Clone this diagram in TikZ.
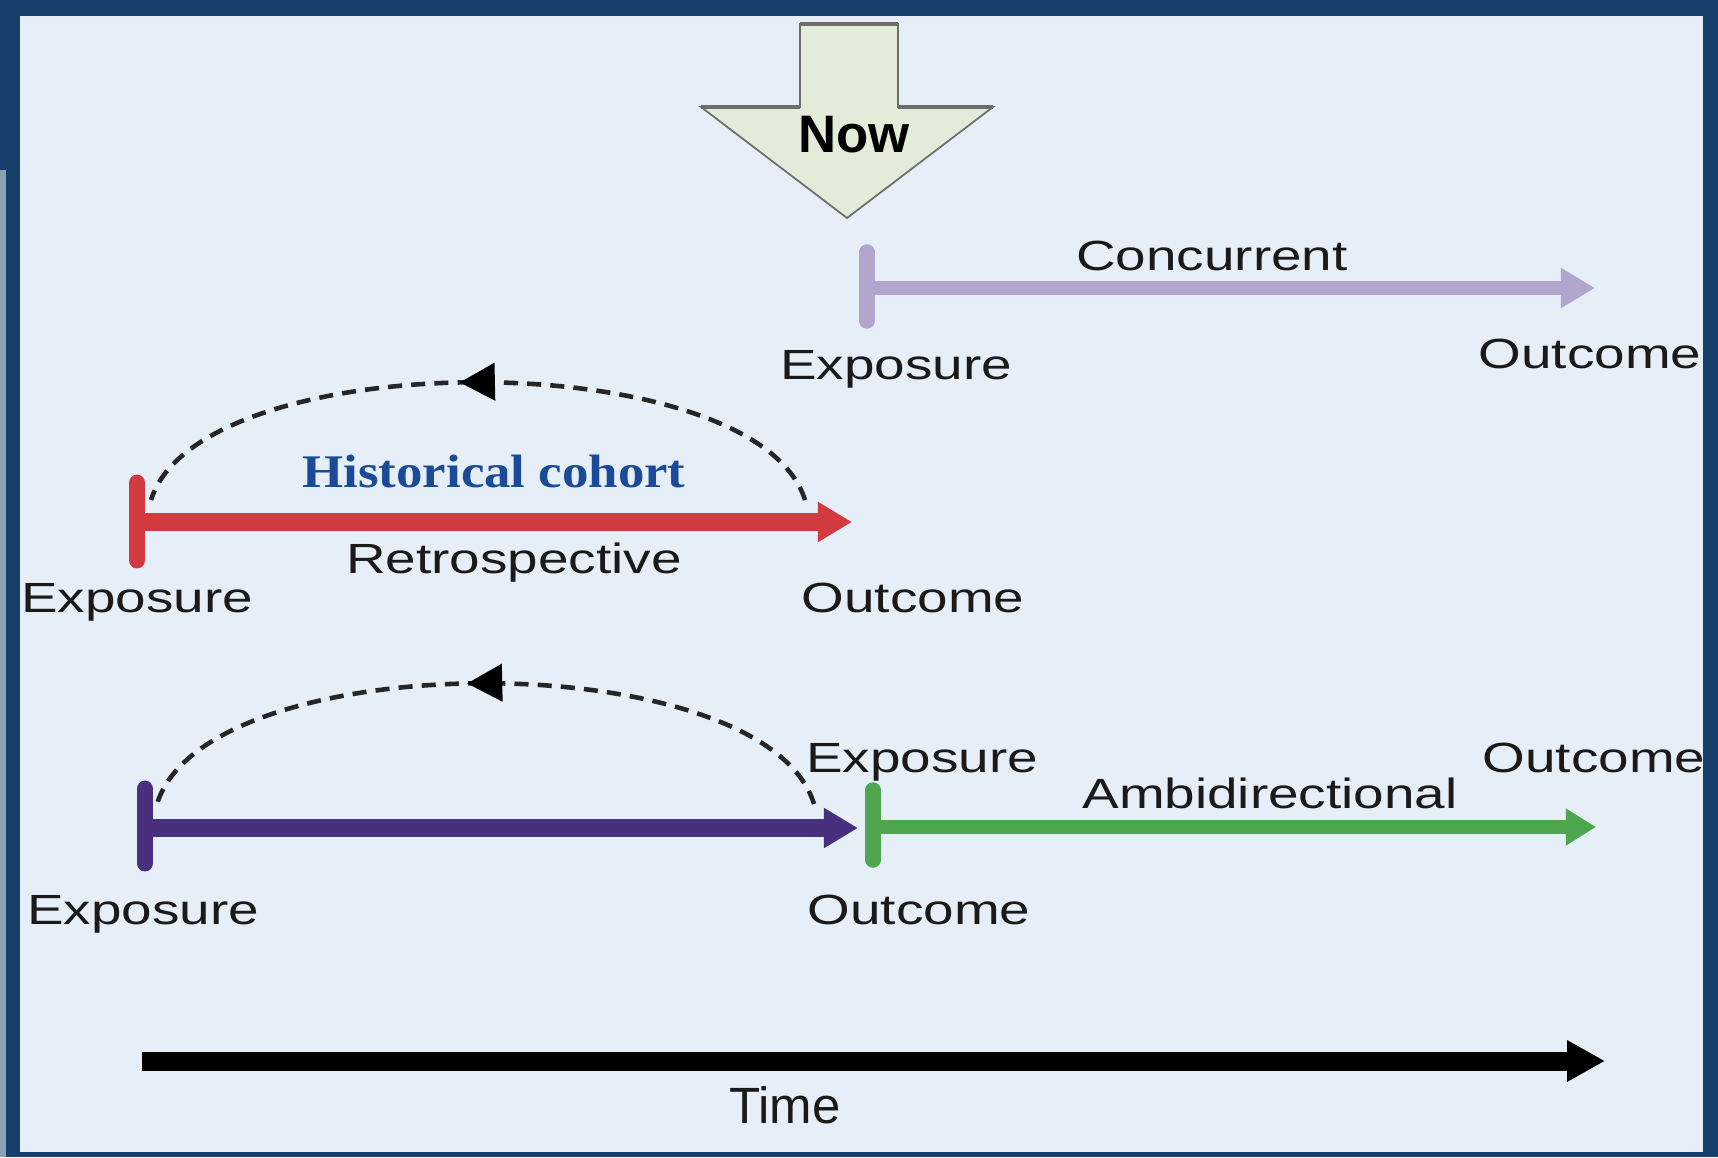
\documentclass[tikz,border=0pt]{standalone}
\usepackage{fontspec}
\setmainfont{Liberation Sans}
\newfontfamily\widesans{Liberation Sans}[FakeStretch=1.3]
\newfontfamily\wideserif{Liberation Serif}[FakeStretch=1.13]
\usetikzlibrary{arrows.meta,calc,decorations.markings}

\definecolor{frameblue}{HTML}{173F6B}
\definecolor{edgegrey}{HTML}{8DA2B4}
\definecolor{panel}{HTML}{E6EEF8}
\definecolor{ink}{HTML}{1A1A1A}
\definecolor{nowfill}{HTML}{E2ECD8}
\definecolor{nowedge}{HTML}{6E6E6E}
\definecolor{lav}{HTML}{B2A5CE}
\definecolor{retrored}{HTML}{D23A3F}
\definecolor{indigo}{HTML}{48307F}
\definecolor{ambigreen}{HTML}{4EA64F}
\definecolor{histblue}{HTML}{1B4A99}

\tikzset{
  lbl/.style={font=\widesans\fontsize{12}{14}\selectfont, text=ink, anchor=base, inner sep=0pt},
  tickbar/.style={line width=4.8pt, line cap=round},
  span/.style={line width=5pt, -{Triangle[length=9.7pt,width=10.8pt]}},
  lookback/.style={dash pattern=on 4pt off 2.6pt, line width=1.3pt, black!85,
    postaction={decorate},
    decoration={markings, mark=at position 0.525 with {\arrow[black]{Triangle[length=10pt,width=10.5pt]}}}},
}

\begin{document}
\begin{tikzpicture}[x=0.01cm, y=-0.01cm]
  % frame and panel
  \fill[frameblue] (0,0) rectangle (1718,1157);
  \fill[edgegrey] (0,170) rectangle (6,1157);
  \fill[panel] (20,16) rectangle (1703,1152);
  \useasboundingbox (0,0) rectangle (1718,1157);

  % "Now" marker arrow
  \filldraw[fill=nowfill, draw=nowedge, line width=0.5pt]
    (800,24) -- (898,24) -- (898,107) -- (993,107) -- (847,218) -- (701,107) -- (800,107) -- cycle;
  \draw[nowedge, line width=1.2pt] (800,24) -- (898,24);
  \draw[nowedge, line width=1.2pt] (701,107) -- (800,107);
  \draw[nowedge, line width=1.2pt] (898,107) -- (993,107);
  \node[font=\bfseries\fontsize{15}{18}\selectfont, text=black, anchor=base, inner sep=0pt] (now) at (854,152) {Now};

  % concurrent
  \coordinate (cE) at (867,288);
  \coordinate (cO) at (1595,288);
  \draw[tickbar, lav, line width=4.4pt] ($(cE)+(0,-36)$) -- ($(cE)+(0,33)$);
  \draw[span, lav, line width=3.9pt] (cE) -- (cO);
  \node[lbl] (conc) at (1212,270) {Concurrent};
  \node[lbl] (cExp) at (896,379) {Exposure};
  \node[lbl] (cOut) at (1590,368) {Outcome};

  % retrospective (historical cohort)
  \coordinate (rE) at (137,522);
  \coordinate (rO) at (852,522);
  \draw[tickbar, retrored] ($(rE)+(0,-39)$) -- ($(rE)+(0,38)$);
  \draw[span, retrored] (rE) -- (rO);
  \coordinate (rL) at (151,500);
  \coordinate (rR) at (805,500);
  \draw[lookback] (rR) .. controls +(-49,-157) and +(49,-157) .. (rL);
  \node[font=\wideserif\bfseries\fontsize{13.3}{16}\selectfont, text=histblue, anchor=base, inner sep=0pt] (hist) at (494,487) {Historical cohort};
  \node[lbl] (retro) at (514,573) {Retrospective};
  \node[lbl] (rExp) at (137,612) {Exposure};
  \node[lbl] (rOut) at (913,612) {Outcome};

  % ambidirectional: retrospective part
  \coordinate (iE) at (145,828);
  \coordinate (iO) at (858,828);
  \draw[tickbar, indigo] ($(iE)+(0,-39)$) -- ($(iE)+(0,35)$);
  \draw[span, indigo] (iE) -- (iO);
  \coordinate (iL) at (157,804);
  \coordinate (iR) at (814,804);
  \draw[lookback] (iR) .. controls +(-49,-161) and +(49,-161) .. (iL);
  \node[lbl] (iExp) at (143,924) {Exposure};
  \node[lbl] (iOut) at (919,924) {Outcome};

  % ambidirectional: prospective part
  \coordinate (gE) at (873,827);
  \coordinate (gO) at (1596,827);
  \draw[tickbar, ambigreen, line width=4.4pt] ($(gE)+(0,-37)$) -- ($(gE)+(0,33)$);
  \draw[span, ambigreen, line width=3.9pt, -{Triangle[length=8.6pt,width=10pt]}] (gE) -- (gO);
  \node[lbl] (gExp) at (922,772) {Exposure};
  \node[lbl] (ambi) at (1270,808) {Ambidirectional};
  \node[lbl] (gOut) at (1594,772) {Outcome};

  % time axis
  \coordinate (t0) at (142,1061);
  \coordinate (t1) at (1605,1061);
  \draw[line width=5.4pt, black, -{Triangle[length=10.8pt,width=11.1pt]}] (t0) -- (t1);
  \node[font=\fontsize{14.5}{17}\selectfont, text=ink, anchor=base, inner sep=0pt] (time) at (785,1123) {Time};
\end{tikzpicture}
\end{document}
